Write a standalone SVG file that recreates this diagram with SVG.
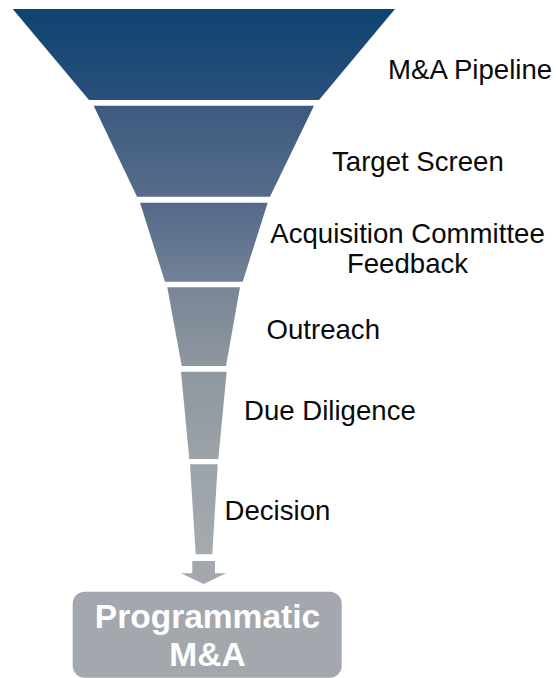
<svg xmlns="http://www.w3.org/2000/svg" width="556" height="678" viewBox="0 0 556 678">
  <style>
    .lbl { font-family: "Liberation Sans", Arial, sans-serif; font-size: 27.6px; fill: #0a0a0a; }
    .out { font-family: "Liberation Sans", Arial, sans-serif; font-size: 33.5px; font-weight: bold; fill: #ffffff; text-anchor: middle; }
    .grey { fill: #a2a8ad; }
  </style>
  <defs>
    <linearGradient id="g1" x1="0" y1="0" x2="0" y2="1">
      <stop offset="0" stop-color="#0e4470"/>
      <stop offset="1" stop-color="#2a4f7b"/>
    </linearGradient>
    <linearGradient id="g2" x1="0" y1="0" x2="0" y2="1">
      <stop offset="0" stop-color="#3b5a7f"/>
      <stop offset="1" stop-color="#586c8a"/>
    </linearGradient>
    <linearGradient id="g3" x1="0" y1="0" x2="0" y2="1">
      <stop offset="0" stop-color="#56698a"/>
      <stop offset="1" stop-color="#718196"/>
    </linearGradient>
    <linearGradient id="g4" x1="0" y1="0" x2="0" y2="1">
      <stop offset="0" stop-color="#798696"/>
      <stop offset="1" stop-color="#8e969f"/>
    </linearGradient>
    <linearGradient id="g5" x1="0" y1="0" x2="0" y2="1">
      <stop offset="0" stop-color="#8f979f"/>
      <stop offset="1" stop-color="#9ba2a8"/>
    </linearGradient>
    <linearGradient id="g6" x1="0" y1="0" x2="0" y2="1">
      <stop offset="0" stop-color="#9ca3a9"/>
      <stop offset="1" stop-color="#a4aaaf"/>
    </linearGradient>
  </defs>

  <!-- funnel stages -->
  <g id="stage-pipeline">
    <polygon points="12.7,9 395,9 319,100 89,100" fill="url(#g1)"/>
    <text class="lbl" x="388" y="79">M&amp;A Pipeline</text>
  </g>
  <g id="stage-target-screen">
    <polygon points="93.7,105.7 314,105.7 270,196.7 137,196.7" fill="url(#g2)"/>
    <text class="lbl" x="332" y="170.5">Target Screen</text>
  </g>
  <g id="stage-committee">
    <polygon points="140,202.7 267.7,202.7 242.7,281.7 165,281.7" fill="url(#g3)"/>
    <text class="lbl" x="407.5" y="243" text-anchor="middle">Acquisition Committee</text>
    <text class="lbl" x="407.5" y="273" text-anchor="middle">Feedback</text>
  </g>
  <g id="stage-outreach">
    <polygon points="167.3,287.3 240,287.3 226,366 181.7,366" fill="url(#g4)"/>
    <text class="lbl" x="266.5" y="339">Outreach</text>
  </g>
  <g id="stage-due-diligence">
    <polygon points="181,371.7 226.7,371.7 218.3,459 189.3,459" fill="url(#g5)"/>
    <text class="lbl" x="244" y="420">Due Diligence</text>
  </g>
  <g id="stage-decision">
    <polygon points="190,464.3 217.7,464.3 212.3,554.3 195.7,554.3" fill="url(#g6)"/>
    <text class="lbl" x="224.5" y="520">Decision</text>
  </g>

  <!-- connector: funnel to outcome -->
  <g id="connectors">
    <polygon class="grey" points="192.3,561 215,561 215,573.3 226,573.3 203.6,584 181,573.3 192.3,573.3"/>
  </g>

  <!-- outcome -->
  <g id="outcome">
    <rect class="grey" x="72.7" y="591.7" width="269" height="86" rx="12" ry="12"/>
    <text class="out" x="207.5" y="628">Programmatic</text>
    <text class="out" x="207.5" y="666">M&amp;A</text>
  </g>
</svg>
